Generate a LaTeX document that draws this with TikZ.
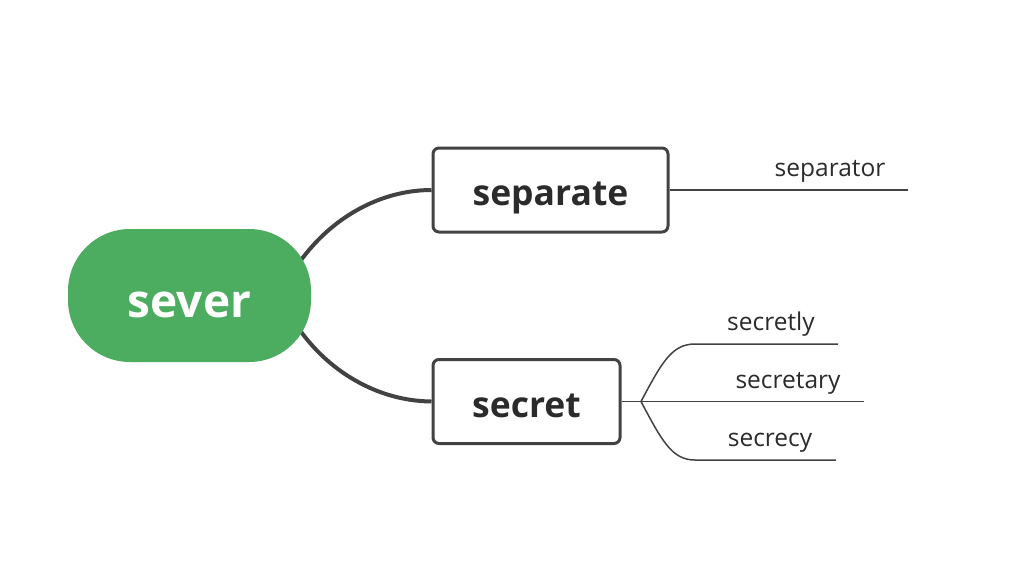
\documentclass[tikz,border=0pt]{standalone}
\usepackage{fontspec}
\setmainfont{Open Sans}
\usetikzlibrary{backgrounds}
\definecolor{pillgreen}{HTML}{4CAD60}
\definecolor{ink}{HTML}{424242}
\definecolor{txt}{HTML}{2B2B2B}
\tikzset{
  every picture/.style={x=1pt,y=-1pt},
  rootnode/.style={fill=pillgreen, rounded corners=62pt, minimum width=243pt, minimum height=133pt,
    text=white, font=\fontsize{46}{50}\selectfont\bfseries, inner sep=0pt, text height=43pt, text depth=0pt},
  mainbox/.style={draw=ink, line width=3pt, rounded corners=6pt, fill=white, minimum height=84pt,
    text=txt, font=\fontsize{35.5}{40}\selectfont\bfseries, inner sep=0pt, text height=31pt, text depth=0pt},
  leaftext/.style={text=txt, font=\fontsize{24.5}{28}\selectfont, inner sep=0pt, anchor=base},
  thick link/.style={draw=ink, line width=4pt},
  thin link/.style={draw=ink, line width=1.5pt},
}
\begin{document}
\begin{tikzpicture}
\useasboundingbox (0,0) rectangle (1014,566);
\node[rootnode] (sever) at (189.5,295.5) {sever};
\node[mainbox, minimum width=235pt] (separate) at (550.5,190) {separate};
\node[mainbox, minimum width=187pt] (secret) at (526.5,401.5) {secret};
\coordinate (sevR) at (280,296);
\begin{scope}[on background layer]
  \draw[thick link] (sevR) .. controls (310,230) and (370,190) .. (separate.west);
  \draw[thick link] (sevR) .. controls (310,362) and (370,401) .. (secret.west);
\end{scope}
% separate child
\coordinate (sepEnd) at (908,190);
\draw[thin link] (separate.east) -- (sepEnd);
\node[leaftext] (separator) at (830,176) {separator};
% secret children
\coordinate (sb) at (641,401.5);
\coordinate (l1) at (838,344);
\coordinate (l2) at (864,401.5);
\coordinate (l3) at (836,460);
\draw[thin link] (secret.east) -- (sb) -- (l2);
\draw[thin link] (sb) .. controls (662,362) and (672,344) .. (695,344) -- (l1);
\draw[thin link] (sb) .. controls (662,441) and (672,460) .. (695,460) -- (l3);
\node[leaftext] (secretly) at (771,330) {secretly};
\node[leaftext] (secretary) at (788,388) {secretary};
\node[leaftext] (secrecy) at (770,446) {secrecy};
\end{tikzpicture}
\end{document}
